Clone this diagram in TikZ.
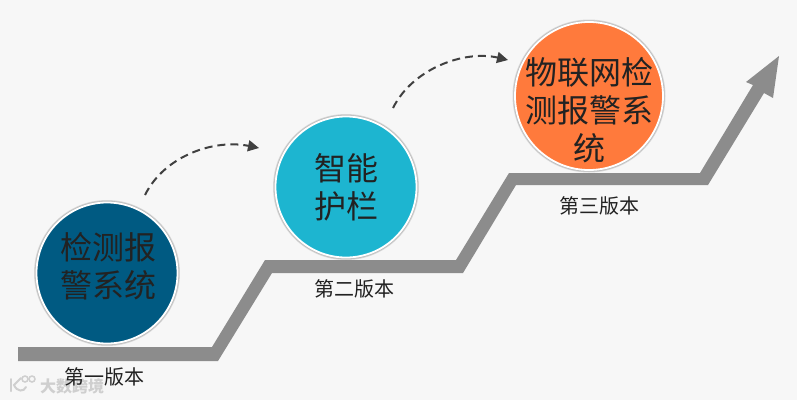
\documentclass[tikz,border=0pt]{standalone}
\usepackage{fontspec}
\setmainfont{Noto Sans CJK SC}
\usetikzlibrary{arrows.meta}
\definecolor{pagebg}{HTML}{F7F7F7}
\definecolor{stairgray}{HTML}{8C8C8C}
\definecolor{cdark}{HTML}{005A82}
\definecolor{cteal}{HTML}{1DB5D0}
\definecolor{corange}{HTML}{FF7A3C}
\definecolor{inkdark}{HTML}{222222}
\definecolor{dashgray}{HTML}{404040}
\definecolor{markgray}{HTML}{CFCFCF}
\tikzset{
  x=1pt,y=-1pt,
  stage/.style={circle,draw=white,line width=1.8pt,inner sep=0pt},
  stagetext/.style={inner sep=0pt,align=center,text=inkdark,font=\fontsize{32}{38}\selectfont},
  verlabel/.style={inner sep=0pt,text=inkdark,font=\fontsize{20}{24}\selectfont},
  hop/.style={dashgray,line width=2pt,dash pattern=on 8pt off 5pt,
    -{Triangle[length=11pt,width=11pt]}},
  halo/.style={fill=black,opacity=0.12},
  mark text/.style={inner sep=0pt,text=markgray,font=\bfseries\fontsize{16}{20}\selectfont},
  mark line/.style={markgray,line cap=round}
}
\begin{document}
\begin{tikzpicture}
\useasboundingbox (0,0) rectangle (797,400);
\fill[pagebg] (0,0) rectangle (797,400);
% rising band
\fill[stairgray] (18,347) -- (212,347) -- (265,260) -- (456,260) -- (509,173) -- (700,173)
  -- (753,85) -- (746,82) -- (779,56) -- (773,98) -- (764,93) -- (708,185) -- (516,185)
  -- (463,273) -- (272,273) -- (218,361) -- (18,361) -- cycle;
% halos
\foreach \cx/\cy/\rr in {107/273/71.5,346/187/71.5,589/96/75}{
  \fill[halo] (\cx,\cy) circle[radius=\rr+1.5];
  \fill[halo] (\cx,\cy) circle[radius=\rr+0.7];
}
\node[stage,fill=cdark,minimum size=141pt] (one) at (107,273) {};
\node[stage,fill=cteal,minimum size=141pt] (two) at (346,187) {};
\node[stage,fill=corange,minimum size=148pt] (three) at (589,96) {};
\node[stagetext] (onet) at (108,266) {检测报\\警系统};
\node[stagetext] (twot) at (346,187) {智能\\护栏};
\node[stagetext] (threet) at (589,110) {物联网检\\测报警系\\统};
% watermark
\node[mark text] (wm) at (72,386) {大数跨境};
\draw[mark line,line width=2pt] (11,379) -- (11,391);
\draw[mark line,line width=2pt] (21,378) -- (14,385) .. controls (17,392) and (24,392) .. (26,387);
\draw[mark line,line width=1.5pt] (25,379) circle[radius=3];
\draw[mark line,line width=1.5pt] (32,379) circle[radius=3];
\node[verlabel] (l1) at (104,377) {第一版本};
\node[verlabel] (l2) at (354,289) {第二版本};
\node[verlabel] (l3) at (599,206) {第三版本};
% dashed hops
\coordinate (s1) at (145,195);
\coordinate (e1) at (259,148);
\coordinate (s2) at (393,108);
\coordinate (e2) at (508,60);
\draw[hop] (s1) .. controls (165,155) and (215,139) .. (e1);
\draw[hop] (s2) .. controls (413,68) and (465,50) .. (e2);
\end{tikzpicture}
\end{document}
